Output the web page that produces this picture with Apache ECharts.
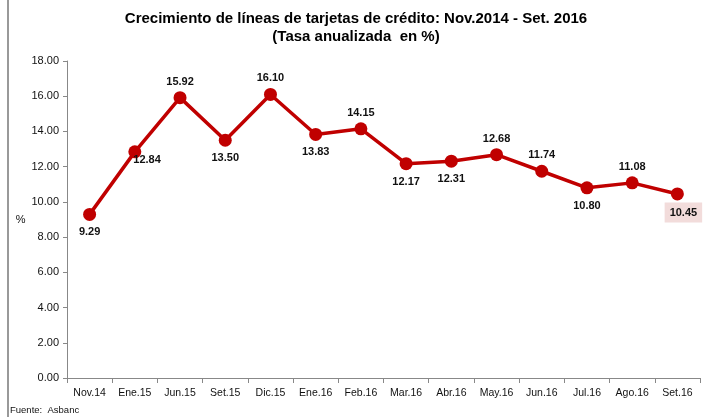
<!DOCTYPE html>
<html>
<head>
<meta charset="utf-8">
<script src="https://cdn.jsdelivr.net/npm/echarts@6/dist/echarts.min.js"></script>
<style>
  html, body { margin: 0; padding: 0; background: #fff; }
  #chart { width: 712px; height: 417px; }
</style>
</head>
<body>
<div id="chart"></div>
<script>
const categories = ['Nov.14', 'Ene.15', 'Jun.15', 'Set.15', 'Dic.15', 'Ene.16', 'Feb.16',
  'Mar.16', 'Abr.16', 'May.16', 'Jun.16', 'Jul.16', 'Ago.16', 'Set.16'];
const growth = [9.29, 12.84, 15.92, 13.50, 16.10, 13.83, 14.15, 12.17, 12.31, 12.68, 11.74, 10.80, 11.08, 10.45];
const yTicks = [0, 2, 4, 6, 8, 10, 12, 14, 16, 18];

const FONT = '"Liberation Sans", sans-serif';
const RED = '#c00000';

// donde va cada etiqueta respecto al punto (como en el original)
const placement = ['bottom', 'rightBottom', 'top', 'bottom', 'top', 'bottom', 'top',
  'bottom', 'bottom', 'top', 'top', 'bottom', 'top', 'last'];

function labelFor(p) {
  const base = { show: true, color: '#111', fontFamily: FONT, fontWeight: 'bold', fontSize: 11,
    formatter: (d) => d.value.toFixed(2) };
  if (p === 'top') return { ...base, position: 'top', distance: 4 };
  if (p === 'rightBottom') return { ...base, position: 'right', offset: [-13, 8] };
  if (p === 'last') return { ...base, position: 'bottom', distance: 2, offset: [6, 0],
    backgroundColor: '#f2dcdb', padding: [5, 5, 4, 5] };
  return { ...base, position: 'bottom', distance: 6 };
}

const chart = echarts.init(document.getElementById('chart'), null, { renderer: 'canvas' });

chart.setOption({
  backgroundColor: '#fff',
  animation: false,
  title: {
    text: 'Crecimiento de líneas de tarjetas de crédito: Nov.2014 - Set. 2016',
    subtext: '(Tasa anualizada  en %)',
    left: 'center',
    top: 6,
    itemGap: 3,
    textStyle: { fontFamily: FONT, fontWeight: 'bold', fontSize: 15, color: '#000' },
    subtextStyle: { fontFamily: FONT, fontWeight: 'bold', fontSize: 15, color: '#000' },
  },
  grid: { left: 67, right: 12, top: 61, bottom: 39 },
  xAxis: {
    type: 'category',
    data: categories,
    boundaryGap: true,
    axisLine: { lineStyle: { color: '#888', width: 1 } },
    axisTick: { show: true, length: 5, lineStyle: { color: '#888' } },
    axisLabel: { color: '#111', fontFamily: FONT, fontSize: 10.5, margin: 10, interval: 0 },
  },
  yAxis: {
    type: 'value',
    min: yTicks[0],
    max: yTicks[yTicks.length - 1],
    interval: 2,
    name: '%',
    nameLocation: 'middle',
    nameRotate: 0,
    nameGap: 38,
    nameTextStyle: { color: '#111', fontFamily: FONT, fontSize: 11, padding: [30, 0, 0, 0] },
    axisLine: { show: true, lineStyle: { color: '#888', width: 1 } },
    axisTick: { show: true, length: 4, lineStyle: { color: '#888' } },
    splitLine: { show: false },
    axisLabel: { color: '#111', fontFamily: FONT, fontSize: 11, margin: 8,
      formatter: (v) => v.toFixed(2) },
  },
  series: [
    {
      type: 'line',
      data: growth.map((v, i) => ({ value: v, label: labelFor(placement[i]) })),
      symbol: 'circle',
      symbolSize: 13,
      itemStyle: { color: RED },
      lineStyle: { color: RED, width: 3.5 },
    },
  ],
  graphic: [
    { type: 'rect', left: 7, top: 0, shape: { width: 2, height: 417 }, style: { fill: '#999' }, silent: true },
    { type: 'text', left: 10, top: 405, style: { text: 'Fuente:  Asbanc', fontFamily: FONT, fontSize: 9.5, fill: '#111' } },
  ],
});
</script>
</body>
</html>
